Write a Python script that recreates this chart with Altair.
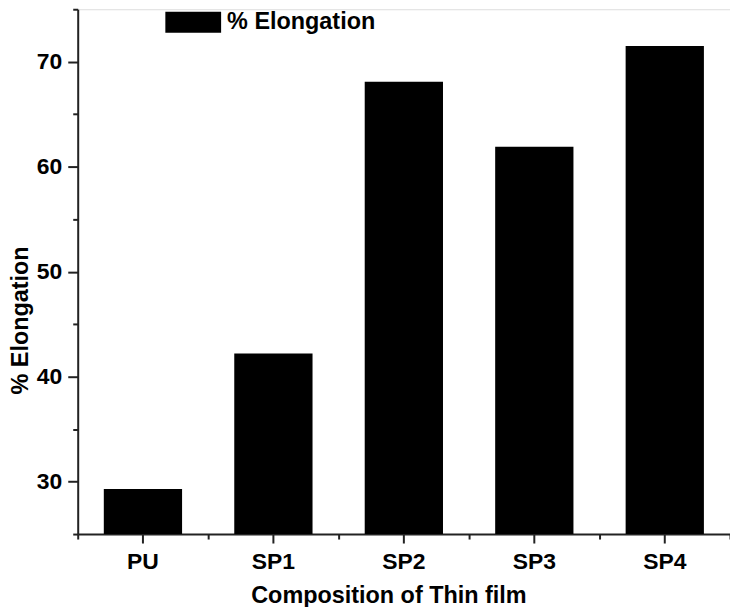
import altair as alt
import pandas as pd

categories = ["PU", "SP1", "SP2", "SP3", "SP4"]
elongation = [29.3, 42.2, 68.1, 61.9, 71.5]
positions = [0, 1, 2, 3, 4]
series_name = "% Elongation"
major_y_ticks = [30, 40, 50, 60, 70]
minor_y_ticks = [25, 35, 45, 55, 65, 75]
minor_x_ticks = [0, 1, 2, 3, 4, 5]

df = pd.DataFrame({
    "cat": categories,
    "val": elongation,
    "pos": positions,
    "series": [series_name] * len(categories),
})

FONT = "Liberation Sans"
AX_COLOR = "#222222"
LBL = 23
TTL = 23.5

bars = alt.Chart(df).mark_bar(color="black").encode(
    x=alt.X("cat:N", sort=categories,
            scale=alt.Scale(paddingInner=0.4, paddingOuter=0.2),
            axis=alt.Axis(title="Composition of Thin film", labelAngle=0,
                          tickSize=9, tickWidth=2, tickColor=AX_COLOR,
                          domainWidth=2, domainColor=AX_COLOR,
                          labelPadding=8, titlePadding=10, titleX=312,
                          labelFont=FONT, labelFontSize=LBL, labelFontWeight="bold",
                          titleFont=FONT, titleFontSize=TTL, titleFontWeight="bold",
                          labelColor="black", titleColor="black", grid=False)),
    y=alt.Y("val:Q", scale=alt.Scale(domain=[25, 75], nice=False, zero=False),
            axis=alt.Axis(title="% Elongation", values=major_y_ticks,
                          tickSize=10, tickWidth=2, tickColor=AX_COLOR,
                          domainWidth=2, domainColor=AX_COLOR,
                          labelPadding=6, titlePadding=4, titleY=312,
                          labelFont=FONT, labelFontSize=LBL, labelFontWeight="bold",
                          titleFont=FONT, titleFontSize=TTL, titleFontWeight="bold",
                          labelColor="black", titleColor="black", grid=False)),
    y2=alt.datum(25),
    color=alt.Color("series:N", scale=alt.Scale(range=["black"]),
                    legend=alt.Legend(title=None, orient="none", legendX=88, legendY=-15,
                                      symbolType="M-1,-0.375L1,-0.375L1,0.375L-1,0.375Z",
                                      symbolSize=3136, symbolStrokeWidth=0,
                                      symbolFillColor="black", symbolOpacity=1,
                                      labelFont=FONT, labelFontSize=TTL, labelFontWeight="bold",
                                      labelColor="black", labelOffset=6, padding=0)),
)

minor = alt.Chart(df).mark_point(opacity=0).encode(
    x=alt.X("pos:Q", scale=alt.Scale(domain=[0, 5], nice=False, zero=False),
            axis=alt.Axis(orient="bottom", values=minor_x_ticks, labels=False, title=None,
                          tickSize=5, tickWidth=2, tickColor=AX_COLOR,
                          domain=False, grid=False)),
    y=alt.Y("val:Q", scale=alt.Scale(domain=[25, 75], nice=False, zero=False),
            axis=alt.Axis(orient="left", values=minor_y_ticks, labels=False, title=None,
                          tickSize=5, tickWidth=2, tickColor=AX_COLOR,
                          domain=False, grid=False)),
)

chart = alt.layer(bars, minor).resolve_scale(
    x="independent", y="independent"
).properties(
    width=655, height=527,
    autosize=alt.AutoSizeParams(type="none"),
    padding={"left": 70, "top": 0, "right": 0, "bottom": 72},
).configure_view(stroke=None).configure(background="white")

chart.save("out.html", embed_options={"renderer": "svg", "actions": False})
